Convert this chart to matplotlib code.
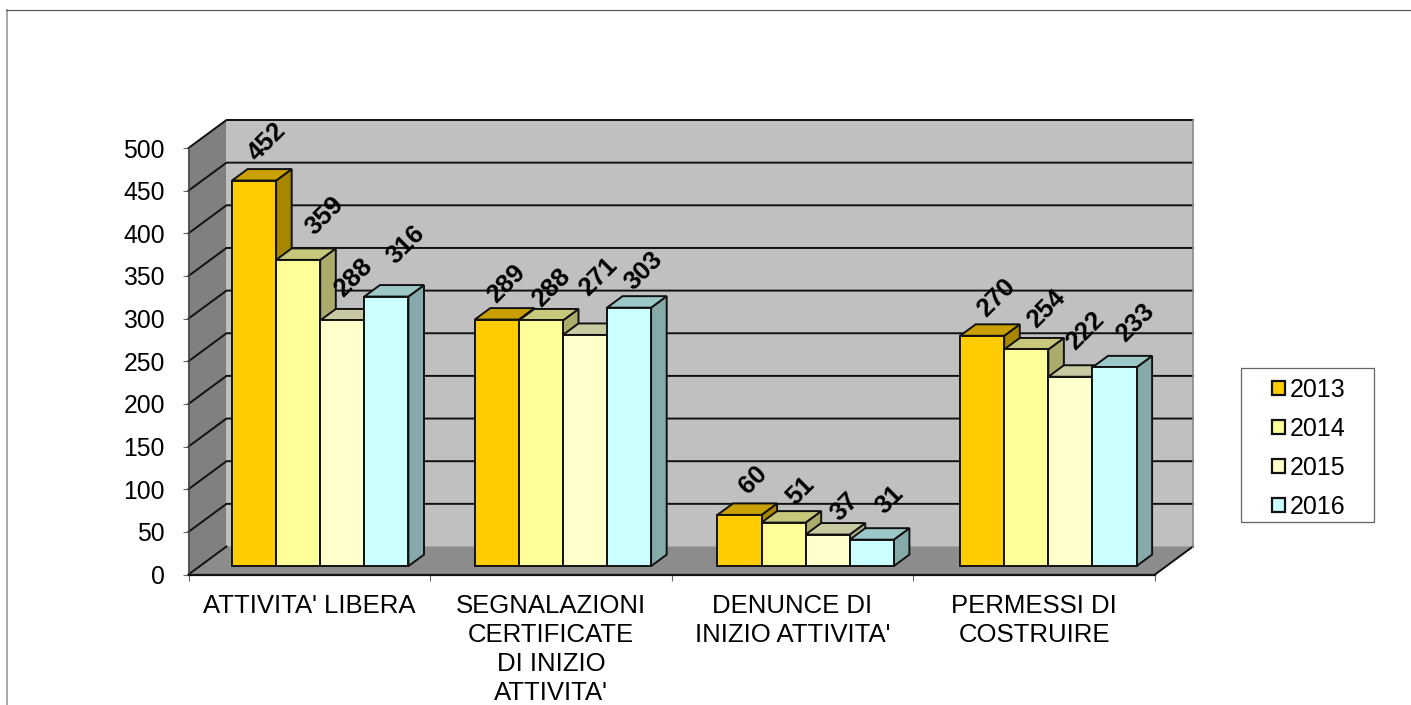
import matplotlib
matplotlib.use('Agg')
import matplotlib.pyplot as plt
from matplotlib.patches import Patch, Polygon, Rectangle
from matplotlib.lines import Line2D

plt.rcParams['font.family'] = ['Liberation Sans', 'DejaVu Sans']

categories = ["ATTIVITA' LIBERA", "SEGNALAZIONI\nCERTIFICATE\nDI INIZIO\nATTIVITA'",
              "DENUNCE DI\nINIZIO ATTIVITA'", "PERMESSI DI\nCOSTRUIRE"]
years = ['2013', '2014', '2015', '2016']
values_2013 = [452, 289, 60, 270]
values_2014 = [359, 288, 51, 254]
values_2015 = [288, 271, 37, 222]
values_2016 = [316, 303, 31, 233]
y_ticks = [0, 50, 100, 150, 200, 250, 300, 350, 400, 450, 500]

series = [values_2013, values_2014, values_2015, values_2016]

# front, side, top colours of each year
colors = [('#FFCC00', '#A88600', '#C9A000'),
          ('#FFFF99', '#ABAB6B', '#C8C87C'),
          ('#FFFFCC', '#B0B08C', '#CACAA2'),
          ('#CCFFFF', '#86AAAA', '#9CC8C8')]

# label nudges in pixels (the labels were placed by hand in the original)
label_dx = [[13, 26, 11, 19], [10, 11, 13, 15], [14, 17, 17, 18], [14, 20, 15, 21]]
label_dy = [[39, 44, 43, 52], [36, 33, 58, 37], [35, 32, 28, 40], [38, 41, 46, 45]]

W, H = 1411, 705
fig = plt.figure(figsize=(W / 100, H / 100), dpi=100)

# front plane of the 3d box
left, right, y0, y500 = 188.5, 1155, 574.5, 148
ax = fig.add_axes([left / W, 1 - y0 / H, (right - left) / W, (y0 - y500) / H])
ax.set_xlim(0, 4)
ax.set_ylim(0, 500)
ax.patch.set_visible(False)

px_x = 4 / (right - left)
px_y = 500 / (y0 - y500)
depth_x = 38 * px_x
depth_y = 28 * px_y


def proj(x, y, d=0.0):
    return (x + d * depth_x, y + d * depth_y)


def poly(pts, color, edge='none', lw=0, z=1):
    ax.add_patch(Polygon(pts, closed=True, facecolor=color, edgecolor=edge, linewidth=lw,
                         zorder=z, clip_on=False, joinstyle='miter'))


line_w = 1.4

# walls
poly([proj(0, 0, 1), proj(4, 0, 1), proj(4, 500, 1), proj(0, 500, 1)], '#C0C0C0')
poly([proj(0, 0), proj(0, 0, 1), proj(0, 500, 1), proj(0, 500)], '#808080')
poly([proj(0, 0), proj(4, 0), proj(4, 0, 1), proj(0, 0, 1)], '#8C8C8C')

for v in y_ticks[1:]:
    a, b, c = proj(0, v), proj(0, v, 1), proj(4, v, 1)
    ax.plot([a[0], b[0], c[0]], [a[1], b[1], c[1]], color='#111111', lw=line_w, zorder=2,
            clip_on=False, solid_joinstyle='miter')

a, b = proj(0, 0), proj(0, 0, 1)
ax.plot([a[0], b[0]], [a[1], b[1]], color='#111111', lw=line_w, zorder=2, clip_on=False)
a, b = proj(4, 0), proj(4, 0, 1)
ax.plot([a[0], b[0]], [a[1], b[1]], color='#111111', lw=line_w, zorder=2, clip_on=False)
a, b = proj(4, 0, 1), proj(4, 500, 1)
ax.plot([a[0], b[0]], [a[1], b[1]], color='#888888', lw=1.2, zorder=2, clip_on=False)

# bars
bar_w = 44.1 * px_x
bar_d0 = 0.3
bar_d1 = 0.71
group_pitch = 242.7 * px_x
first_group = 0.5 - 2 * bar_w - 0.5 * px_x


def group_start(i):
    return first_group + i * group_pitch


z = 3
for i in range(len(categories)):
    start = group_start(i)
    for j, vals in enumerate(series):
        x0 = start + j * bar_w
        x1 = x0 + bar_w
        v = vals[i]
        front, side, top = colors[j]
        poly([proj(x1, 0, bar_d0), proj(x1, 0, bar_d1), proj(x1, v, bar_d1), proj(x1, v, bar_d0)],
             side, '#111111', line_w, z)
        poly([proj(x0, v, bar_d0), proj(x1, v, bar_d0), proj(x1, v, bar_d1), proj(x0, v, bar_d1)],
             top, '#111111', line_w, z)
        poly([proj(x0, 0, bar_d0), proj(x1, 0, bar_d0), proj(x1, v, bar_d0), proj(x0, v, bar_d0)],
             front, '#111111', line_w, z)
        z += 1

# value labels
for i in range(len(categories)):
    start = group_start(i)
    for j, vals in enumerate(series):
        ax.annotate(str(vals[i]), xy=proj(start + (j + 0.5) * bar_w, vals[i], bar_d0),
                    xytext=(label_dx[i][j] * 0.72, label_dy[i][j] * 0.72),
                    textcoords='offset points', ha='center', va='center', rotation=45,
                    rotation_mode='anchor', fontsize=18.5, fontweight='bold', color='black',
                    zorder=50, annotation_clip=False)

# axes
for s in ['top', 'right']:
    ax.spines[s].set_visible(False)
ax.spines['left'].set_color('#444444')
ax.spines['left'].set_linewidth(1.2)
ax.spines['left'].set_zorder(2.5)
ax.spines['bottom'].set_color('#111111')
ax.spines['bottom'].set_linewidth(1.6)
ax.spines['bottom'].set_zorder(2.5)
ax.set_yticks(y_ticks)
ax.set_yticklabels([str(v) for v in y_ticks], fontsize=17.8)
ax.tick_params(axis='y', length=4, width=0.8, color='#666666', pad=13)
ax.set_xticks([0, 1, 2, 3, 4])
ax.set_xticklabels([])
ax.tick_params(axis='x', which='major', length=4, width=0.8, color='#666666')
ax.set_xticks([0.5, 1.5, 2.5, 3.5], minor=True)
ax.set_xticklabels(categories, minor=True, fontsize=18.5, linespacing=1.27)
ax.tick_params(axis='x', which='minor', length=0, pad=14)

# legend, the frame is separate so its width can follow the original
fig.add_artist(Rectangle((1241 / W, 1 - 522 / H), 133 / W, 154 / H, transform=fig.transFigure,
                         facecolor='white', edgecolor='#666666', linewidth=0.9))
handles = [Patch(facecolor=colors[k][0], edgecolor='#111111', linewidth=1.6, label=years[k])
           for k in range(len(years))]
leg = fig.legend(handles=handles, loc='upper left',
                 bbox_to_anchor=(1272 / W, 1 - 377.5 / H), bbox_transform=fig.transFigure,
                 fontsize=18, frameon=False, borderaxespad=0, borderpad=0,
                 handlelength=0.5, handleheight=0.5, handletextpad=0.2, labelspacing=0.6)

# outer frame of the chart
fig.add_artist(Line2D([6.5 / W, 6.5 / W], [0, 1 - 10 / H], color='#A8A8A8', lw=1.4))
fig.add_artist(Line2D([6 / W, 1], [1 - 10 / H, 1 - 10 / H], color='#5A5A5A', lw=0.9))

fig.savefig('out.png', dpi=100)
